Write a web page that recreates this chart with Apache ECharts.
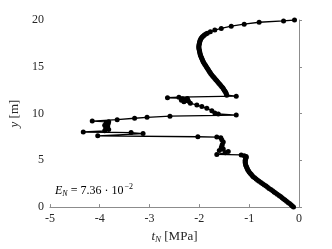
<!DOCTYPE html>
<html>
<head>
<meta charset="utf-8">
<script src="https://cdn.jsdelivr.net/npm/echarts@6/dist/echarts.min.js"></script>
<style>
  html, body { margin: 0; padding: 0; background: #fff; }
  #box { width: 332px; height: 249px; }
</style>
</head>
<body>
<div id="box"></div>
<script>
// depth y [m] and traction t_N [MPa]
var depth = [
    // lower smooth part
    0, 0.125, 0.25, 0.375, 0.5, 0.625, 0.75, 0.875, 1.0, 1.125, 1.25, 1.375, 1.5, 1.625, 1.75, 1.875,
    2.0, 2.125, 2.25, 2.375, 2.5, 2.625, 2.75, 2.875, 3.0, 3.125, 3.25, 3.375, 3.5, 3.625, 3.75, 3.875,
    4.0, 4.125, 4.25, 4.375, 4.5, 4.625, 4.75, 4.875, 5.0, 5.1, 5.2, 5.3, 5.4, 5.5, 5.58,
    // zig-zag zone
    5.63, 5.8, 5.95, 6.05, 6.2, 6.35, 6.5, 6.7, 6.95, 7.2, 7.4, 7.48,
    7.52, 7.62, 7.86, 7.97, 8.03, 8.15, 8.3, 8.45, 8.6, 8.75, 8.9, 9.05, 9.12,
    9.2, 9.35, 9.5, 9.6, 9.72, 9.84, 9.95,
    10.05, 10.3, 10.57, 10.75, 10.92, 11.1, 11.27, 11.35, 11.42, 11.5, 11.57, 11.62,
    11.69, 11.75, 11.86, 11.96,
    // upper smooth part
    12.125, 12.25, 12.375, 12.5, 12.625, 12.75, 12.875, 13.0, 13.125, 13.25, 13.375, 13.5, 13.625, 13.75, 13.875,
    14.0, 14.125, 14.25, 14.375, 14.5, 14.625, 14.75, 14.875, 15.0, 15.125, 15.25, 15.375, 15.5, 15.625, 15.75, 15.875,
    16.0, 16.125, 16.25, 16.375, 16.5, 16.625, 16.75, 16.875, 17.0, 17.125, 17.25, 17.375, 17.5, 17.625, 17.75, 17.875,
    18.0, 18.1, 18.2, 18.3, 18.4, 18.5, 18.58,
    18.75, 18.92, 19.1, 19.34, 19.55, 19.76, 19.9, 20.0
];
var traction = [
    -0.11, -0.135, -0.16, -0.19, -0.22, -0.25, -0.28, -0.31, -0.34, -0.37, -0.40, -0.435, -0.47, -0.50, -0.53, -0.565,
    -0.60, -0.63, -0.66, -0.695, -0.73, -0.765, -0.80, -0.83, -0.86, -0.89, -0.92, -0.94, -0.96, -0.98, -1.00, -1.015,
    -1.03, -1.04, -1.05, -1.06, -1.07, -1.075, -1.08, -1.08, -1.08, -1.075, -1.07, -1.06, -1.06, -1.10, -1.16,
    -1.65, -1.48, -1.42, -1.60, -1.52, -1.56, -1.55, -1.54, -1.52, -1.55, -1.57, -1.65,
    -2.03, -4.04, -3.13, -3.37, -4.33, -3.90, -3.82, -3.88, -3.84, -3.90, -3.83, -3.87, -3.82,
    -4.15, -3.65, -3.30, -3.05, -2.59, -1.26, -1.62,
    -1.69, -1.75, -1.85, -1.95, -2.05, -2.18, -2.31, -2.22, -2.36, -2.26, -2.34, -2.24,
    -2.64, -2.41, -1.26, -1.45,
    -1.46, -1.47, -1.485, -1.50, -1.515, -1.53, -1.55, -1.57, -1.59, -1.61, -1.63, -1.65, -1.67, -1.69, -1.71,
    -1.73, -1.75, -1.77, -1.785, -1.80, -1.815, -1.83, -1.845, -1.86, -1.875, -1.89, -1.905, -1.92, -1.93, -1.94, -1.95,
    -1.96, -1.97, -1.98, -1.985, -1.99, -1.995, -2.00, -2.005, -2.01, -2.01, -2.01, -2.005, -2.00, -1.995, -1.99, -1.98,
    -1.97, -1.955, -1.94, -1.92, -1.90, -1.87, -1.84,
    -1.78, -1.69, -1.56, -1.36, -1.10, -0.80, -0.31, -0.09
];
var xTicks = [-5, -4, -3, -2, -1, 0];
var yTicks = [0, 5, 10, 15, 20];

var pts = depth.map(function (y, i) { return [traction[i], y]; });

var myChart = echarts.init(document.getElementById('box'));
var font = '"Liberation Serif", "DejaVu Serif", serif';
var axisGray = '#8c8c8c';
var option = {
    animation: false,
    grid: { left: 45, right: 33, top: 20, bottom: 38 },
    xAxis: {
        type: 'value',
        min: xTicks[0], max: xTicks[xTicks.length - 1], interval: 1,
        name: '{i|t}{sub|N}{n| [MPa]}',
        nameLocation: 'middle', nameGap: 20,
        nameTextStyle: {
            rich: {
                i: { fontFamily: font, fontStyle: 'italic', fontSize: 13, color: '#262626' },
                sub: { fontFamily: font, fontStyle: 'italic', fontSize: 9, color: '#262626', padding: [6, 0, 0, 0] },
                n: { fontFamily: font, fontSize: 13, color: '#262626' }
            }
        },
        axisLine: { lineStyle: { color: axisGray, width: 1 } },
        axisTick: { inside: true, length: 3, lineStyle: { color: axisGray } },
        axisLabel: { fontFamily: font, fontSize: 12, color: '#262626', margin: 6 },
        splitLine: { show: false }
    },
    yAxis: {
        type: 'value',
        min: yTicks[0], max: yTicks[yTicks.length - 1], interval: 5,
        name: '{i|y}{n| [m]}',
        nameLocation: 'middle', nameGap: 19, nameRotate: 90,
        nameTextStyle: {
            rich: {
                i: { fontFamily: font, fontStyle: 'italic', fontSize: 13, color: '#262626' },
                n: { fontFamily: font, fontSize: 13, color: '#262626' }
            }
        },
        axisLine: { show: true, lineStyle: { color: axisGray, width: 1 } },
        axisTick: { show: true, inside: true, length: 3, lineStyle: { color: axisGray } },
        axisLabel: { fontFamily: font, fontSize: 12, color: '#262626', margin: 6 },
        splitLine: { show: false }
    },
    graphic: [{
        type: 'text',
        left: 55, top: 183,
        style: {
            text: '{i|E}{sub|N}{n| = 7.36 · 10}{sup|−2}',
            rich: {
                i: { fontFamily: font, fontStyle: 'italic', fontSize: 12, fill: '#000' },
                sub: { fontFamily: font, fontStyle: 'italic', fontSize: 8, fill: '#000', padding: [6, 0, 0, 0] },
                n: { fontFamily: font, fontSize: 12, fill: '#000' },
                sup: { fontFamily: font, fontSize: 8, fill: '#000', padding: [0, 0, 7, 1] }
            }
        }
    }],
    series: [{
        type: 'line',
        data: pts,
        symbol: 'circle',
        symbolSize: 5,
        itemStyle: { color: '#000' },
        lineStyle: { color: '#000', width: 1.3 }
    }]
};
myChart.setOption(option);
</script>
</body>
</html>
